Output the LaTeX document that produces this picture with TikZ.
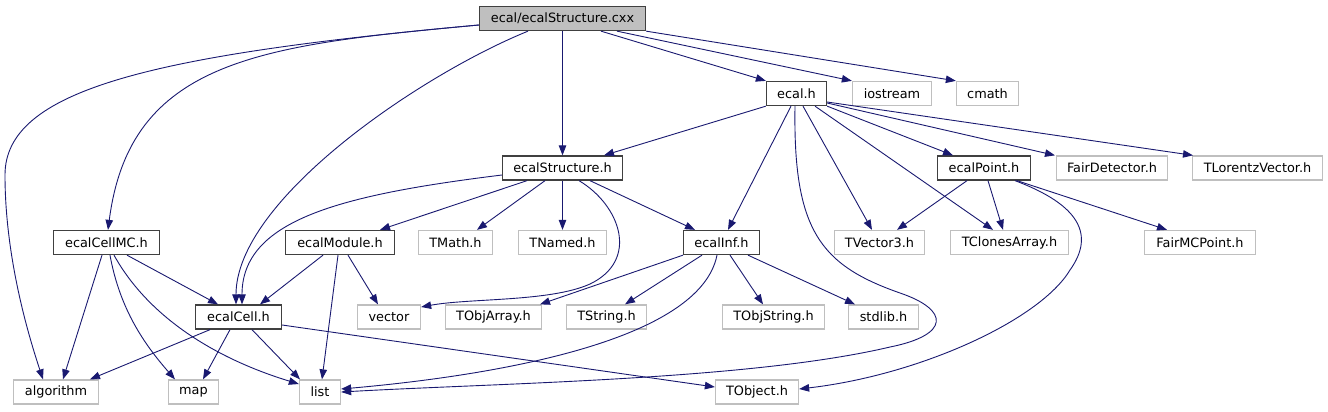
\documentclass[tikz,border=0pt]{standalone}
\usepackage{fontspec}
\setmainfont{DejaVu Sans}
\usetikzlibrary{arrows.meta}
\definecolor{edgec}{HTML}{191970}
\definecolor{gbox}{HTML}{BFBFBF}
\definecolor{dbox}{HTML}{404040}
\begin{document}
\begin{tikzpicture}[x=1bp,y=-1bp,
 box/.style={draw=dbox,line width=1.3bp,minimum height=24bp,inner sep=0pt,font=\fontsize{12.9}{14}\selectfont,text=black},
 ext/.style={box,draw=gbox},
 root/.style={box,fill=gbox},
 dep/.style={draw=edgec,line width=0.9bp,-{Triangle[length=10bp,width=7.5bp]}}]
\useasboundingbox (0,0) rectangle (1328,411);
% row 1
\node[root,minimum width=166bp] (cxx) at (562.5,18.5) {ecal/ecalStructure.cxx};
% row 2
\node[box,minimum width=60bp] (ecalh) at (796.5,93.5) {ecal.h};
\node[ext,minimum width=79bp] (iostream) at (892,93.5) {iostream};
\node[ext,minimum width=62bp] (cmath) at (987.5,93.5) {cmath};
% row 3
\node[box,minimum width=120bp] (estruct) at (562.5,168) {ecalStructure.h};
\node[box,minimum width=93bp] (epoint) at (984,168) {ecalPoint.h};
\node[ext,minimum width=111bp] (fairdet) at (1112,168) {FairDetector.h};
\node[ext,minimum width=130bp] (tlv) at (1257.5,168) {TLorentzVector.h};
% row 4
\node[box,minimum width=106bp] (cellmc) at (106.5,242.5) {ecalCellMC.h};
\node[box,minimum width=109bp] (emodule) at (340,242.5) {ecalModule.h};
\node[ext,minimum width=74bp] (tmath) at (455.5,242.5) {TMath.h};
\node[ext,minimum width=88bp] (tnamed) at (562.5,242.5) {TNamed.h};
\node[box,minimum width=76bp] (einf) at (721.5,242.5) {ecalInf.h};
\node[ext,minimum width=90bp] (tvec3) at (879.5,242.5) {TVector3.h};
\node[ext,minimum width=118bp] (tclones) at (1009.5,242.5) {TClonesArray.h};
\node[ext,minimum width=111bp] (fairmc) at (1200,242.5) {FairMCPoint.h};
% row 5
\node[box,minimum width=86bp] (ecell) at (238.5,317) {ecalCell.h};
\node[ext,minimum width=63bp] (vector) at (389,317) {vector};
\node[ext,minimum width=96bp] (tobjarr) at (493.5,317) {TObjArray.h};
\node[ext,minimum width=80bp] (tstring) at (606.5,317) {TString.h};
\node[ext,minimum width=102bp] (tobjstr) at (773.5,317) {TObjString.h};
\node[ext,minimum width=70bp] (stdlib) at (883.5,317) {stdlib.h};
% row 6
\node[ext,minimum width=85bp] (algo) at (56,392) {algorithm};
\node[ext,minimum width=50bp] (map) at (193.5,392) {map};
\node[ext,minimum width=41bp] (list) at (320,392) {list};
\node[ext,minimum width=83bp] (tobject) at (757,392) {TObject.h};

% edges from cxx
\draw[dep] (cxx.west |- 0,25) .. controls (150,55) and (5,90) .. (5,175) .. controls (5,260) and (30,340) .. (algo.north -| 43,0);
\draw[dep] (cxx.west |- 0,25) .. controls (260,45) and (130,60) .. (cellmc.north -| 108,0);
\draw[dep] (cxx.south -| 528,0) .. controls (420,75) and (236,200) .. (ecell.north -| 236,0);
\draw[dep] (cxx) -- (estruct);
\draw[dep] (cxx.south -| 601,0) -- (ecalh.north west);
\draw[dep] (cxx.south -| 617,0) -- (iostream.north west);
\draw[dep] (cxx.south east) -- (cmath.north west);
% edges from ecal.h
\draw[dep] (ecalh.south west) -- (estruct.north -| 604,0);
\draw[dep] (ecalh.south -| 791,0) -- (einf.north -| 728,0);
\draw[dep] (ecalh.south -| 795,0) .. controls (793,230) and (820,265) .. (900,293) .. controls (950,310) and (950,335) .. (890,347) .. controls (750,380) and (500,383) .. (list.east);
\draw[dep] (ecalh.south -| 803,0) -- (tvec3.north -| 872,0);
\draw[dep] (ecalh.south -| 815,0) -- (tclones.north -| 993,0);
\draw[dep] (ecalh.south east) -- (epoint.north -| 953,0);
\draw[dep] (ecalh.east |- 0,103) -- (fairdet.north -| 1055,0);
\draw[dep] (ecalh.east |- 0,102) -- (tlv.north -| 1193,0);
% edges from ecalStructure.h
\draw[dep] (estruct.west |- 0,175) .. controls (340,195) and (242,220) .. (ecell.north -| 242,0);
\draw[dep] (estruct.south -| 527,0) -- (emodule.north -| 380,0);
\draw[dep] (estruct.south -| 545,0) -- (tmath.north -| 477,0);
\draw[dep] (estruct) -- (tnamed);
\draw[dep] (estruct.south -| 590,0) -- (einf.north -| 695,0);
\draw[dep] (estruct.south -| 579,0) .. controls (620,205) and (640,260) .. (590,284) .. controls (550,302) and (470,298) .. (vector.east |- 0,307);
% edges from ecalPoint.h
\draw[dep] (epoint.south -| 967,0) -- (tvec3.north -| 897,0);
\draw[dep] (epoint.south -| 988,0) -- (tclones.north -| 1003,0);
\draw[dep] (epoint.south -| 1017,0) -- (fairmc.north -| 1167,0);
\draw[dep] (epoint.south -| 1015,0) .. controls (1080,205) and (1095,235) .. (1070,270) .. controls (1040,320) and (920,375) .. (tobject.east |- 0,389);
% edges from ecalCellMC.h
\draw[dep] (cellmc.south -| 127,0) -- (ecell.north -| 218,0);
\draw[dep] (cellmc.south -| 102,0) -- (algo.north -| 63,0);
\draw[dep] (cellmc.south -| 110,0) .. controls (120,310) and (145,345) .. (map.north -| 175,0);
\draw[dep] (cellmc.south -| 114,0) .. controls (150,320) and (220,360) .. (list.west |- 0,384);
% edges from ecalModule.h
\draw[dep] (emodule.south -| 323,0) -- (ecell.north -| 260,0);
\draw[dep] (emodule.south -| 348,0) -- (vector.north -| 378,0);
\draw[dep] (emodule.south -| 338,0) -- (list.north -| 322,0);
% edges from ecalInf.h
\draw[dep] (einf.south -| 683,0) -- (tobjarr.north -| 540,0);
\draw[dep] (einf.south -| 702,0) -- (tstring.north -| 625,0);
\draw[dep] (einf.south -| 730,0) -- (tobjstr.north -| 763,0);
\draw[dep] (einf.south -| 748,0) -- (stdlib.north -| 855,0);
\draw[dep] (einf.south -| 717,0) .. controls (700,340) and (500,375) .. (list.east |- 0,389);
% edges from ecalCell.h
\draw[dep] (ecell.south -| 210,0) -- (algo.north -| 90,0);
\draw[dep] (ecell.south -| 230,0) -- (map.north -| 203,0);
\draw[dep] (ecell.south -| 252,0) -- (list.north -| 300,0);
\draw[dep] (ecell.east |- 0,325) -- (tobject.west |- 0,387);
\end{tikzpicture}
\end{document}
